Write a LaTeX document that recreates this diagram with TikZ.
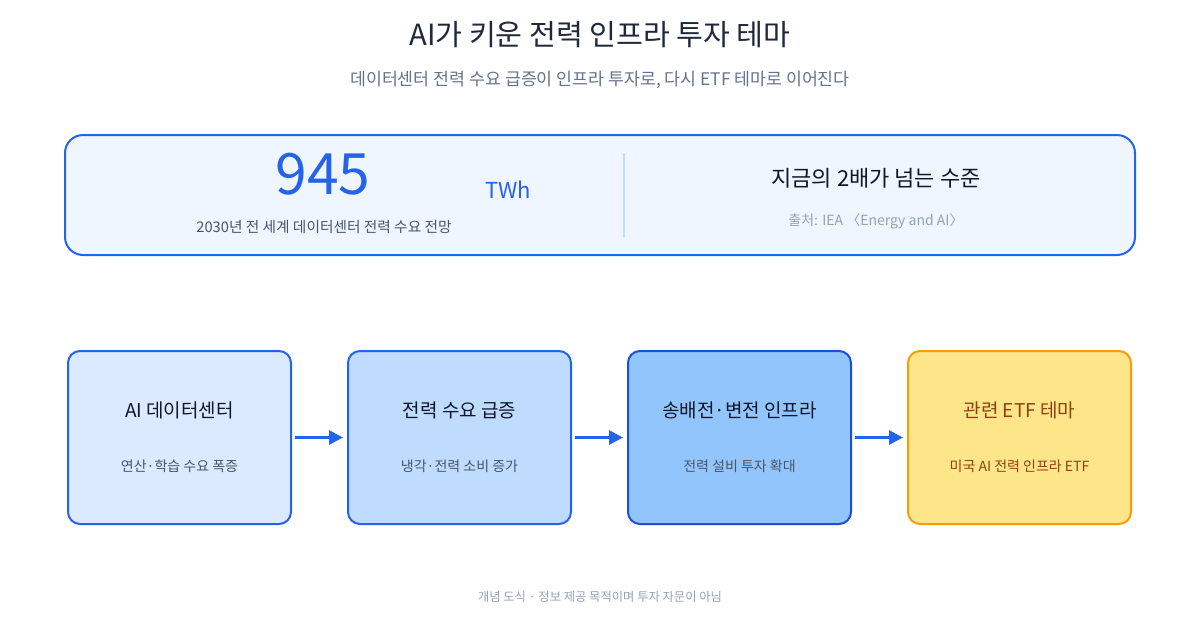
\documentclass[tikz,border=0pt]{standalone}
\usepackage{fontspec}
\setmainfont{Noto Sans CJK KR}
\usetikzlibrary{arrows.meta}
\definecolor{titlec}{HTML}{1E293B}
\definecolor{subc}{HTML}{64748B}
\definecolor{blue6}{HTML}{2563EB}
\definecolor{blue7}{HTML}{1D4ED8}
\definecolor{panelfill}{HTML}{EFF6FF}
\definecolor{blue1}{HTML}{DBEAFE}
\definecolor{blue2}{HTML}{BFDBFE}
\definecolor{blue3}{HTML}{93C5FD}
\definecolor{amber2}{HTML}{FDE68A}
\definecolor{amber5}{HTML}{F59E0B}
\definecolor{brown}{HTML}{92400E}
\definecolor{slate6}{HTML}{475569}
\definecolor{slate4}{HTML}{94A3B8}
\definecolor{ink}{HTML}{0F172A}
\tikzset{
  fs/.style={font=\fontsize{#1}{#1}\selectfont},
  txt/.style={inner sep=0pt, anchor=center},
  stepbox/.style={draw=blue6, line width=2pt, rounded corners=12pt, minimum width=223pt, minimum height=173pt, inner sep=0pt},
  arr/.style={draw=blue6, line width=3pt, -{Triangle[length=14pt,width=14pt]}, shorten <=3pt, shorten >=4pt},
}
\begin{document}
\begin{tikzpicture}[x=1pt,y=-1pt]
\useasboundingbox[fill=white] (0,0) rectangle (1200,630);
% title
\node[txt, fs=29.2, text=titlec] (title) at (600,35) {AI가 키운 전력 인프라 투자 테마};
\node[txt, fs=17.3, text=subc] (subtitle) at (600,80) {데이터센터 전력 수요 급증이 인프라 투자로, 다시 ETF 테마로 이어진다};
% top panel
\node[draw=blue6, fill=panelfill, line width=2pt, rounded corners=18pt, minimum width=1070pt, minimum height=120pt, inner sep=0pt] (panel) at (600,195) {};
\coordinate (dtop) at (624,153);
\coordinate (dbot) at (624,237);
\draw[blue2, line width=1.5pt] (dtop) -- (dbot);
\node[txt, fs=57, text=blue6] (num) at (323,174) {945};
\node[txt, fs=22, text=blue6] (unit) at (508,190) {TWh};
\node[txt, fs=14.7, text=slate6] (numlab) at (324,227) {2030년 전 세계 데이터센터 전력 수요 전망};
\node[txt, fs=22, text=ink] (twice) at (876,178) {지금의 2배가 넘는 수준};
\node[txt, fs=14, text=slate4] (src) at (876,221) {출처: IEA 〈Energy and AI〉};
% boxes
\node[stepbox, fill=blue1] (b1) at (179.5,437.5) {};
\node[stepbox, fill=blue2] (b2) at (459.5,437.5) {};
\node[stepbox, fill=blue3, draw=blue7] (b3) at (739.5,437.5) {};
\node[stepbox, fill=amber2, draw=amber5] (b4) at (1019.5,437.5) {};
\node[txt, fs=19, text=ink] (t1) at (179.5,410) {AI 데이터센터};
\node[txt, fs=14, text=slate6] (s1) at (179.5,466) {연산·학습 수요 폭증};
\node[txt, fs=19, text=ink] (t2) at (459.5,410) {전력 수요 급증};
\node[txt, fs=14, text=slate6] (s2) at (459.5,466) {냉각·전력 소비 증가};
\node[txt, fs=19, text=ink] (t3) at (739.5,410) {송배전·변전 인프라};
\node[txt, fs=14, text=slate6] (s3) at (739.5,466) {전력 설비 투자 확대};
\node[txt, fs=19, text=brown] (t4) at (1019.5,410) {관련 ETF 테마};
\node[txt, fs=14, text=brown] (s4) at (1019.5,466) {미국 AI 전력 인프라 ETF};
% arrows
\draw[arr] (b1.east) -- (b2.west);
\draw[arr] (b2.east) -- (b3.west);
\draw[arr] (b3.east) -- (b4.west);
% footer
\node[txt, fs=12.3, text=slate4] (foot) at (600,597) {개념 도식 · 정보 제공 목적이며 투자 자문이 아님};
\end{tikzpicture}
\end{document}
